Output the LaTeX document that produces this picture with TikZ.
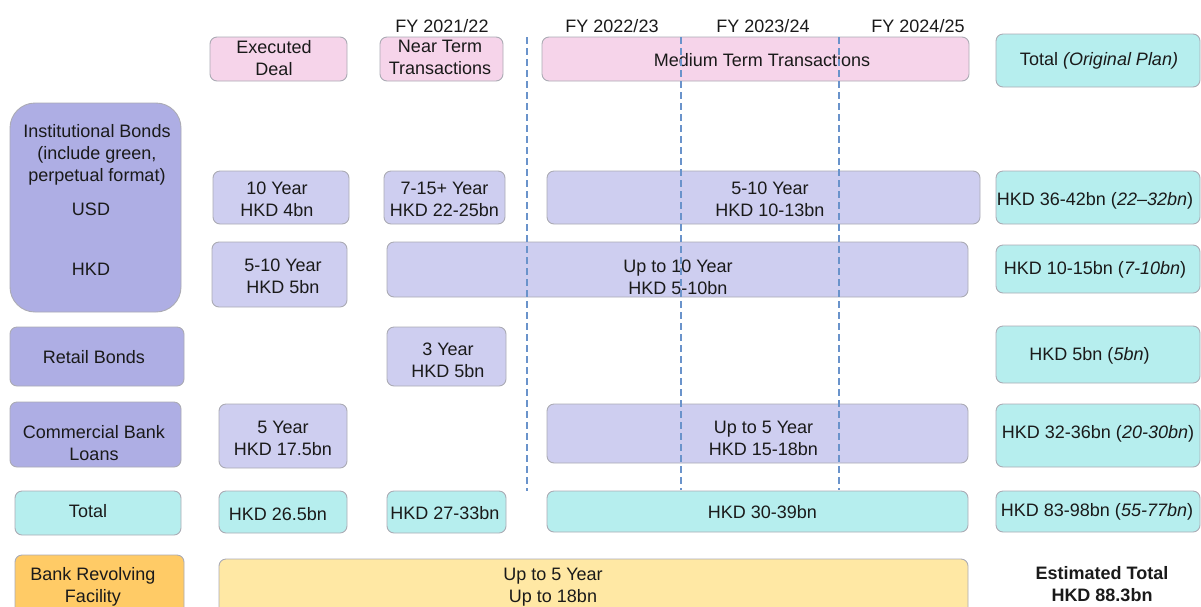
\documentclass[tikz,border=0pt]{standalone}
\usepackage{fontspec}
\setmainfont{Liberation Sans}
\definecolor{pinkc}{HTML}{F6D4EA}
\definecolor{lavl}{HTML}{CECEF0}
\definecolor{lavd}{HTML}{AEAEE4}
\definecolor{cyanc}{HTML}{B6EEEE}
\definecolor{orangec}{HTML}{FFCB66}
\definecolor{yellowc}{HTML}{FFE8A4}
\definecolor{textc}{HTML}{1A1A1A}
\definecolor{dashc}{HTML}{6A93CB}
\definecolor{edgec}{HTML}{ABABB4}
\tikzset{
  box/.style={draw=edgec, line width=0.9pt, rounded corners=7pt, inner sep=0pt},
  txt/.style={font=\fontsize{18}{22}\selectfont, align=center, inner sep=0pt, text=textc},
  divider/.style={draw=dashc, line width=1.5pt, dash pattern=on 7pt off 4pt},
}
\newcommand\bx[6]{\node[box,#2,minimum width={#5pt-#3pt},minimum height={#6pt-#4pt}] (#1) at ({(#3+#5)/2},{(#4+#6)/2}) {};}
\begin{document}
\begin{tikzpicture}[x=1pt,y=-1pt]
\useasboundingbox (0,0) rectangle (1201,606);
\clip (0,0) rectangle (1201,606);
% FY labels
\node[txt] (fy1) at (442,26.5) {FY 2021/22};
\node[txt] (fy2) at (612,26.5) {FY 2022/23};
\node[txt] (fy3) at (763,26.5) {FY 2023/24};
\node[txt] (fy4) at (918,26.5) {FY 2024/25};
% header row
\bx{exec}{fill=pinkc}{210}{37}{347}{81}
\bx{near}{fill=pinkc}{380}{37}{503}{81}
\bx{medium}{fill=pinkc}{542}{37}{969}{81}
\bx{tothdr}{fill=cyanc}{996}{34}{1200}{87}
\node[txt] (t-exec) at (274,58.5) {Executed\\Deal};
\node[txt] (t-near) at (440,57.5) {Near Term\\Transactions};
\node[txt] (t-medium) at (762,60) {Medium Term Transactions};
\node[txt] (t-tothdr) at (1099,60.5) {Total \textit{(Original Plan)}};
% left category boxes
\bx{inst}{fill=lavd,rounded corners=25pt}{10}{103}{181}{312}
\bx{retail}{fill=lavd}{10}{327}{184}{386}
\bx{cbl}{fill=lavd}{10}{402}{181}{467}
\bx{total}{fill=cyanc}{15}{491}{181}{535}
\bx{rev}{fill=orangec}{15}{555}{184}{630}
\node[txt] (t-inst) at (97,155) {Institutional Bonds\\(include green,\\perpetual format)};
\node[txt] (t-usd) at (91,209.5) {USD};
\node[txt] (t-hkd) at (91,269.5) {HKD};
\node[txt] (t-retail) at (94,357) {Retail Bonds};
\node[txt] (t-cbl) at (94,443) {Commercial Bank\\Loans};
\node[txt] (t-total) at (88,511) {Total};
\node[txt] (t-rev) at (93,587) {Bank Revolving\\Facility};
% USD row
\bx{usd1}{fill=lavl}{213}{171}{349}{224}
\bx{usd2}{fill=lavl}{384}{171}{505}{224}
\bx{usd3}{fill=lavl}{547}{171}{980}{224}
\bx{usd4}{fill=cyanc}{996}{171}{1200}{224}
\node[txt] (t-usd1) at (277,199) {10 Year\\HKD 4bn};
\node[txt] (t-usd2) at (444.5,199) {7-15+ Year\\HKD 22-25bn};
\node[txt] (t-usd3) at (770,199) {5-10 Year\\HKD 10-13bn};
\node[txt] (t-usd4) at (1095,200.5) {HKD 36-42bn (\textit{22–32bn})};
% HKD row
\bx{hkd1}{fill=lavl}{212}{242}{347}{307}
\bx{hkd2}{fill=lavl}{387}{242}{968}{297}
\bx{hkd3}{fill=cyanc}{996}{245}{1200}{293}
\node[txt] (t-hkd1) at (283,276) {5-10 Year\\HKD 5bn};
\node[txt] (t-hkd2) at (678,277) {Up to 10 Year\\HKD 5-10bn};
\node[txt] (t-hkd3) at (1095,270) {HKD 10-15bn (\textit{7-10bn})};
% Retail row
\bx{ret2}{fill=lavl}{387}{327}{506}{386}
\bx{ret3}{fill=cyanc}{996}{326}{1200}{383}
\node[txt] (t-ret2) at (448,360) {3 Year\\HKD 5bn};
\node[txt] (t-ret3) at (1089.5,355.5) {HKD 5bn (\textit{5bn})};
% Commercial bank loans row
\bx{cbl1}{fill=lavl}{219}{404}{347}{468}
\bx{cbl2}{fill=lavl}{547}{404}{968}{463}
\bx{cbl3}{fill=cyanc}{996}{404}{1200}{467}
\node[txt] (t-cbl1) at (283,438) {5 Year\\HKD 17.5bn};
\node[txt] (t-cbl2) at (763.5,438) {Up to 5 Year\\HKD 15-18bn};
\node[txt] (t-cbl3) at (1098,433.5) {HKD 32-36bn (\textit{20-30bn})};
% Total row
\bx{tot1}{fill=cyanc}{219}{491}{347}{533}
\bx{tot2}{fill=cyanc}{387}{491}{506}{533}
\bx{tot3}{fill=cyanc}{547}{491}{968}{532}
\bx{tot4}{fill=cyanc}{996}{491}{1200}{532}
\node[txt] (t-tot1) at (278,514) {HKD 26.5bn};
\node[txt] (t-tot2) at (445,513) {HKD 27-33bn};
\node[txt] (t-tot3) at (762.5,512.5) {HKD 30-39bn};
\node[txt] (t-tot4) at (1097,512) {HKD 83-98bn (\textit{55-77bn})};
% Revolving row
\bx{rev1}{fill=yellowc}{219}{559}{968}{630}
\node[txt] (t-rev1) at (553,587) {Up to 5 Year\\Up to 18bn};
\node[txt,font=\fontsize{18}{22}\selectfont\bfseries] (t-est) at (1102,584) {Estimated Total\\HKD 88.3bn};
% dashed year dividers
\coordinate (d1t) at (527,37);  \coordinate (d1b) at (527,491);
\coordinate (d2t) at (681,37);  \coordinate (d2b) at (681,490);
\coordinate (d3t) at (839,37);  \coordinate (d3b) at (839,490);
\draw[divider] (d1t) -- (d1b);
\draw[divider] (d2t) -- (d2b);
\draw[divider] (d3t) -- (d3b);
\end{tikzpicture}
\end{document}
